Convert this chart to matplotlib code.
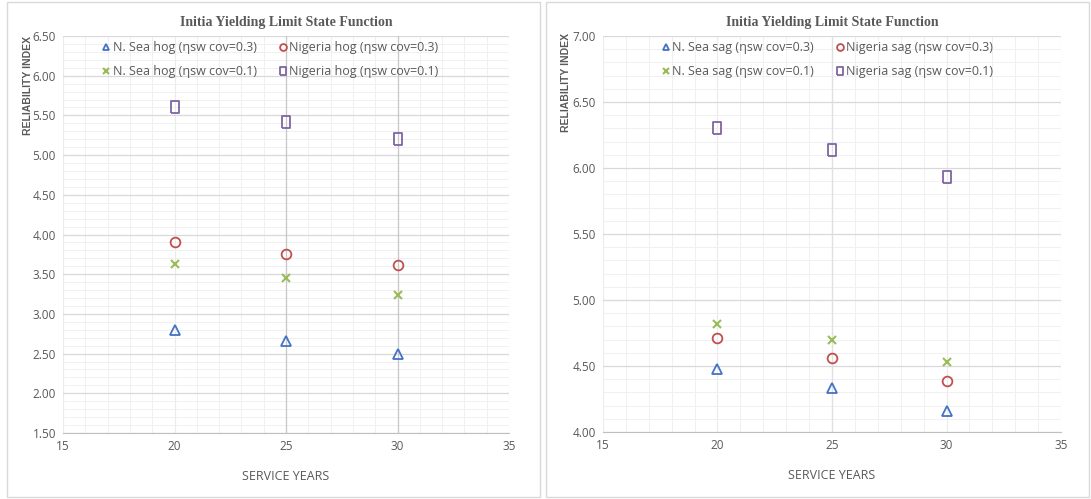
import matplotlib
matplotlib.use("Agg")
import matplotlib.pyplot as plt
from matplotlib.patches import Rectangle
from matplotlib.ticker import MultipleLocator, FormatStrFormatter
from matplotlib import font_manager

# service years on the x axis
years = [20, 25, 30]

# hogging condition reliability indices
nsea_hog_03 = [2.80, 2.66, 2.50]
nigeria_hog_03 = [3.90, 3.76, 3.61]
nsea_hog_01 = [3.63, 3.45, 3.24]
nigeria_hog_01 = [5.61, 5.42, 5.20]

# sagging condition reliability indices
nsea_sag_03 = [4.48, 4.33, 4.16]
nigeria_sag_03 = [4.71, 4.56, 4.39]
nsea_sag_01 = [4.82, 4.70, 4.53]
nigeria_sag_01 = [6.30, 6.14, 5.93]

hog_labels = ['N. Sea hog (\u03b7sw cov=0.3)', 'Nigeria hog (\u03b7sw cov=0.3)',
              'N. Sea hog (\u03b7sw cov=0.1)', 'Nigeria hog (\u03b7sw cov=0.1)']
sag_labels = ['N. Sea sag (\u03b7sw cov=0.3)', 'Nigeria sag (\u03b7sw cov=0.3)',
              'N. Sea sag (\u03b7sw cov=0.1)', 'Nigeria sag (\u03b7sw cov=0.1)']

title = 'Initia Yielding Limit State Function'


def pick(names):
    avail = {f.name for f in font_manager.fontManager.ttflist}
    for n in names:
        if n in avail:
            return n
    return 'DejaVu Sans'


narrow = pick(['Liberation Sans Narrow', 'Open Sans', 'DejaVu Sans'])
serif = pick(['Liberation Serif', 'DejaVu Serif'])
bold_sans = pick(['Liberation Sans', 'DejaVu Sans'])

BLUE = '#4472C4'
RED = '#C0504D'
GREEN = '#9BBB59'
PURPLE = '#8064A2'
TXT = '#595959'

# tall open rectangle used for the cov=0.1 Nigeria series
rect_marker = [(-0.6, -1), (0.6, -1), (0.6, 1), (-0.6, 1), (-0.6, -1)]


def draw(ax, series, labels, ylim, dark_x, leg_x):
    styles = [
        dict(marker='^', color=BLUE, ms=7),
        dict(marker='o', color=RED, ms=7),
        dict(marker='x', color=GREEN, ms=6),
        dict(marker=rect_marker, color=PURPLE, ms=9),
    ]
    handles = []
    for vals, lab, st in zip(series, labels, styles):
        if st['marker'] == 'x':
            h, = ax.plot(years, vals, linestyle='none', marker='x',
                         color=st['color'], ms=st['ms'], mew=1.5, label=lab,
                         zorder=3)
        else:
            h, = ax.plot(years, vals, linestyle='none', marker=st['marker'],
                         mfc='none', mec=st['color'], ms=st['ms'], mew=1.3,
                         label=lab, zorder=3)
        handles.append(h)

    ax.set_xlim(15, 35)
    ax.set_ylim(*ylim)
    ax.xaxis.set_major_locator(MultipleLocator(5))
    ax.xaxis.set_minor_locator(MultipleLocator(1))
    ax.yaxis.set_major_locator(MultipleLocator(0.5))
    ax.yaxis.set_minor_locator(MultipleLocator(0.1))
    ax.yaxis.set_major_formatter(FormatStrFormatter('%.2f'))
    ax.grid(which='major', axis='y', color='#D9D9D9', linewidth=0.9)
    ax.grid(which='major', axis='x', color='#EBEBEB', linewidth=0.8)
    ax.grid(which='minor', color='#F0F0F0', linewidth=0.7)
    for xv, c in dark_x:
        ax.axvline(xv, color=c, linewidth=0.9, zorder=1)
    ax.set_axisbelow(True)
    for s in ['top', 'right', 'left']:
        ax.spines[s].set_visible(False)
    ax.spines['bottom'].set_color('#BFBFBF')
    ax.tick_params(which='both', length=0, colors=TXT, labelsize=8.5, pad=5)
    for lbl in ax.get_xticklabels() + ax.get_yticklabels():
        lbl.set_fontfamily(narrow)
        lbl.set_color(TXT)

    ax.set_xlabel('SERVICE YEARS', fontfamily=narrow, fontsize=9,
                  color=TXT, labelpad=12)
    ax.set_title(title, fontfamily=serif, fontweight='bold', fontsize=10,
                 color=TXT, pad=7)

    # legend order in two columns: row 1 -> cov 0.3, row 2 -> cov 0.1
    order = [handles[0], handles[2], handles[1], handles[3]]
    leg = ax.legend(order, [h.get_label() for h in order], ncol=2,
                    loc='upper center', bbox_to_anchor=(leg_x, 1.015),
                    frameon=False, handlelength=0.6, handletextpad=0.2,
                    columnspacing=1.8, labelspacing=0.85, markerscale=0.7,
                    prop={'family': narrow, 'size': 9})
    for t in leg.get_texts():
        t.set_color(TXT)


fig = plt.figure(figsize=(10.91, 4.99), dpi=100)

# chart area borders
fig.patches.append(Rectangle((7 / 1091, 0.004), 533 / 1091, 0.992,
                             transform=fig.transFigure, fill=False,
                             edgecolor='#D9D9D9', linewidth=1))
fig.patches.append(Rectangle((546 / 1091, 0.004), 543 / 1091, 0.992,
                             transform=fig.transFigure, fill=False,
                             edgecolor='#D9D9D9', linewidth=1))

ax1 = fig.add_axes([63 / 1091, 1 - 433 / 499, 446 / 1091, 397 / 499])
draw(ax1, [nsea_hog_03, nigeria_hog_03, nsea_hog_01, nigeria_hog_01],
     hog_labels, (1.5, 6.5), [(25, '#C8C8C8'), (30, '#C8C8C8')], 0.465)

ax2 = fig.add_axes([603 / 1091, 1 - 432 / 499, 458 / 1091, 396 / 499])
draw(ax2, [nsea_sag_03, nigeria_sag_03, nsea_sag_01, nigeria_sag_01],
     sag_labels, (4.0, 7.0), [(25, '#E0E0E0')], 0.49)

# y axis titles sit near the top of each chart
fig.text(28 / 1091, 1 - 36 / 499, 'RELIABILITY INDEX', rotation=90,
         ha='center', va='top', fontfamily=bold_sans, fontweight='bold',
         fontsize=7.5, color=TXT)
fig.text(566 / 1091, 1 - 33 / 499, 'RELIABILITY INDEX', rotation=90,
         ha='center', va='top', fontfamily=bold_sans, fontweight='bold',
         fontsize=7.5, color=TXT)

fig.savefig('out.png', dpi=100)
